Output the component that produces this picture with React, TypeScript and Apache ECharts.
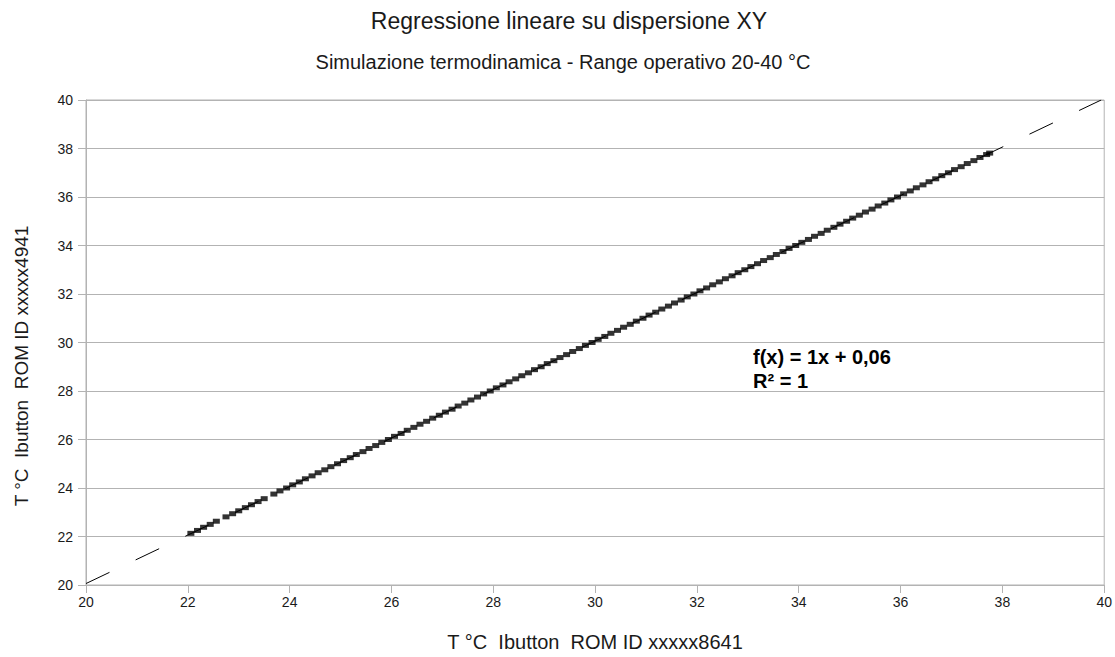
import React, { useEffect, useRef } from "react";
import * as echarts from "echarts";

const titleText = "Regressione lineare su dispersione XY";
const subtitleText = "Simulazione termodinamica - Range operativo 20-40 °C";
const xAxisName = "T °C  Ibutton  ROM ID xxxxx8641";
const yAxisName = "T °C  Ibutton  ROM ID xxxxx4941";
const equationLines = ["f(x) = 1x + 0,06", "R² = 1"];

// Measured temperatures (sensor 8641 on x, sensor 4941 on y)
const sensorX = [
  22.06, 22.19, 22.31, 22.44, 22.56, 22.75, 22.88, 23.0, 23.13, 23.25, 23.38, 23.5,
  23.69, 23.81, 23.94, 24.06, 24.19, 24.31, 24.44, 24.56, 24.69, 24.81, 24.94, 25.06,
  25.19, 25.31, 25.44, 25.56, 25.69, 25.81, 25.94, 26.06, 26.19, 26.31, 26.44, 26.56,
  26.69, 26.81, 26.94, 27.06, 27.19, 27.31, 27.44, 27.56, 27.69, 27.81, 27.94, 28.06,
  28.19, 28.31, 28.44, 28.56, 28.69, 28.81, 28.94, 29.06, 29.19, 29.31, 29.44, 29.56,
  29.69, 29.81, 29.94, 30.06, 30.19, 30.31, 30.44, 30.56, 30.69, 30.81, 30.94, 31.06,
  31.19, 31.31, 31.44, 31.56, 31.69, 31.81, 31.94, 32.06, 32.19, 32.31, 32.44, 32.56,
  32.69, 32.81, 32.94, 33.06, 33.19, 33.31, 33.44, 33.56, 33.69, 33.81, 33.94, 34.06,
  34.19, 34.31, 34.44, 34.56, 34.69, 34.81, 34.94, 35.06, 35.19, 35.31, 35.44, 35.56,
  35.69, 35.81, 35.94, 36.06, 36.19, 36.31, 36.44, 36.56, 36.69, 36.81, 36.94, 37.06,
  37.19, 37.31, 37.44, 37.56, 37.69, 37.75,
];
const sensorY = [
  22.13, 22.25, 22.38, 22.5, 22.63, 22.81, 22.94, 23.06, 23.19, 23.31, 23.44, 23.56,
  23.75, 23.88, 24.0, 24.13, 24.25, 24.38, 24.5, 24.63, 24.75, 24.88, 25.0, 25.13,
  25.25, 25.38, 25.5, 25.63, 25.75, 25.88, 26.0, 26.13, 26.25, 26.38, 26.5, 26.63,
  26.75, 26.88, 27.0, 27.13, 27.25, 27.38, 27.5, 27.63, 27.75, 27.88, 28.0, 28.13,
  28.25, 28.38, 28.5, 28.63, 28.75, 28.88, 29.0, 29.13, 29.25, 29.38, 29.5, 29.63,
  29.75, 29.88, 30.0, 30.13, 30.25, 30.38, 30.5, 30.63, 30.75, 30.88, 31.0, 31.13,
  31.25, 31.38, 31.5, 31.63, 31.75, 31.88, 32.0, 32.13, 32.25, 32.38, 32.5, 32.63,
  32.75, 32.88, 33.0, 33.13, 33.25, 33.38, 33.5, 33.63, 33.75, 33.88, 34.0, 34.13,
  34.25, 34.38, 34.5, 34.63, 34.75, 34.88, 35.0, 35.13, 35.25, 35.38, 35.5, 35.63,
  35.75, 35.88, 36.0, 36.13, 36.25, 36.38, 36.5, 36.63, 36.75, 36.88, 37.0, 37.13,
  37.25, 37.38, 37.5, 37.63, 37.75, 37.81,
];

// Regression line f(x) = 1x + 0,06 evaluated across the axis range
const trendX = [20, 39.94];
const trendY = [20.06, 40.0];

const axisMin = 20;
const axisMax = 40;
const axisStep = 2;

const FONT = "Liberation Sans, Arial, sans-serif";
const TEXT_COLOR = "#1a1a1a";

export default function App() {
  const ref = useRef<HTMLDivElement>(null);

  useEffect(() => {
    if (!ref.current) return;
    const chart = echarts.init(ref.current, undefined, { renderer: "svg" });
    const points = sensorX.map((x, i) => [x, sensorY[i]]);
    const trend = trendX.map((x, i) => [x, trendY[i]]);
    chart.setOption({
      animation: false,
      backgroundColor: "#ffffff",
      textStyle: { fontFamily: FONT },
      grid: {
        left: 86,
        right: 10,
        top: 100,
        bottom: 68,
        show: true,
        borderColor: "#b3b3b3",
        borderWidth: 1,
      },
      xAxis: {
        type: "value",
        min: axisMin,
        max: axisMax,
        interval: axisStep,
        name: xAxisName,
        nameLocation: "middle",
        nameGap: 47,
        nameTextStyle: { fontFamily: FONT, fontSize: 20, color: TEXT_COLOR },
        axisLine: { show: true, lineStyle: { color: "#b3b3b3" } },
        axisTick: { show: true, length: 8, lineStyle: { color: "#b3b3b3" } },
        axisLabel: { fontFamily: FONT, fontSize: 14, color: TEXT_COLOR, margin: 10 },
        splitLine: { show: false },
      },
      yAxis: {
        type: "value",
        min: axisMin,
        max: axisMax,
        interval: axisStep,
        axisLine: { show: true, lineStyle: { color: "#b3b3b3" } },
        axisTick: { show: true, length: 8, lineStyle: { color: "#b3b3b3" } },
        axisLabel: { fontFamily: FONT, fontSize: 14, color: TEXT_COLOR, margin: 13 },
        splitLine: { show: true, lineStyle: { color: "#b3b3b3", width: 1 } },
      },
      series: [
        {
          type: "line",
          data: trend,
          showSymbol: false,
          symbol: "none",
          lineStyle: { color: "#000", width: 1, type: [26, 29] },
          z: 2,
        },
        {
          type: "scatter",
          data: points,
          symbol: "rect",
          symbolSize: [7, 5],
          itemStyle: { color: "#000" },
          z: 3,
        },
      ],
      graphic: [
        {
          type: "text",
          x: 569,
          y: 21,
          style: {
            text: titleText,
            fontFamily: FONT,
            fontSize: 23,
            fill: TEXT_COLOR,
            align: "center",
            verticalAlign: "middle",
          },
        },
        {
          type: "text",
          x: 563,
          y: 62,
          style: {
            text: subtitleText,
            fontFamily: FONT,
            fontSize: 20,
            fill: TEXT_COLOR,
            align: "center",
            verticalAlign: "middle",
          },
        },
        {
          type: "text",
          x: 21,
          y: 366,
          rotation: Math.PI / 2,
          style: {
            text: yAxisName,
            fontFamily: FONT,
            fontSize: 19,
            fill: TEXT_COLOR,
            align: "center",
            verticalAlign: "middle",
          },
        },
        {
          type: "text",
          x: 753,
          y: 357,
          style: {
            text: equationLines[0],
            fontFamily: FONT,
            fontSize: 20,
            fontWeight: "bold",
            fill: "#000",
            align: "left",
            verticalAlign: "middle",
          },
        },
        {
          type: "text",
          x: 753,
          y: 381,
          style: {
            text: equationLines[1],
            fontFamily: FONT,
            fontSize: 20,
            fontWeight: "bold",
            fill: "#000",
            align: "left",
            verticalAlign: "middle",
          },
        },
      ],
    });
    return () => chart.dispose();
  }, []);

  return (
    <div
      ref={ref}
      style={{ position: "fixed", left: 0, top: 0, width: 1115, height: 657 }}
    />
  );
}
